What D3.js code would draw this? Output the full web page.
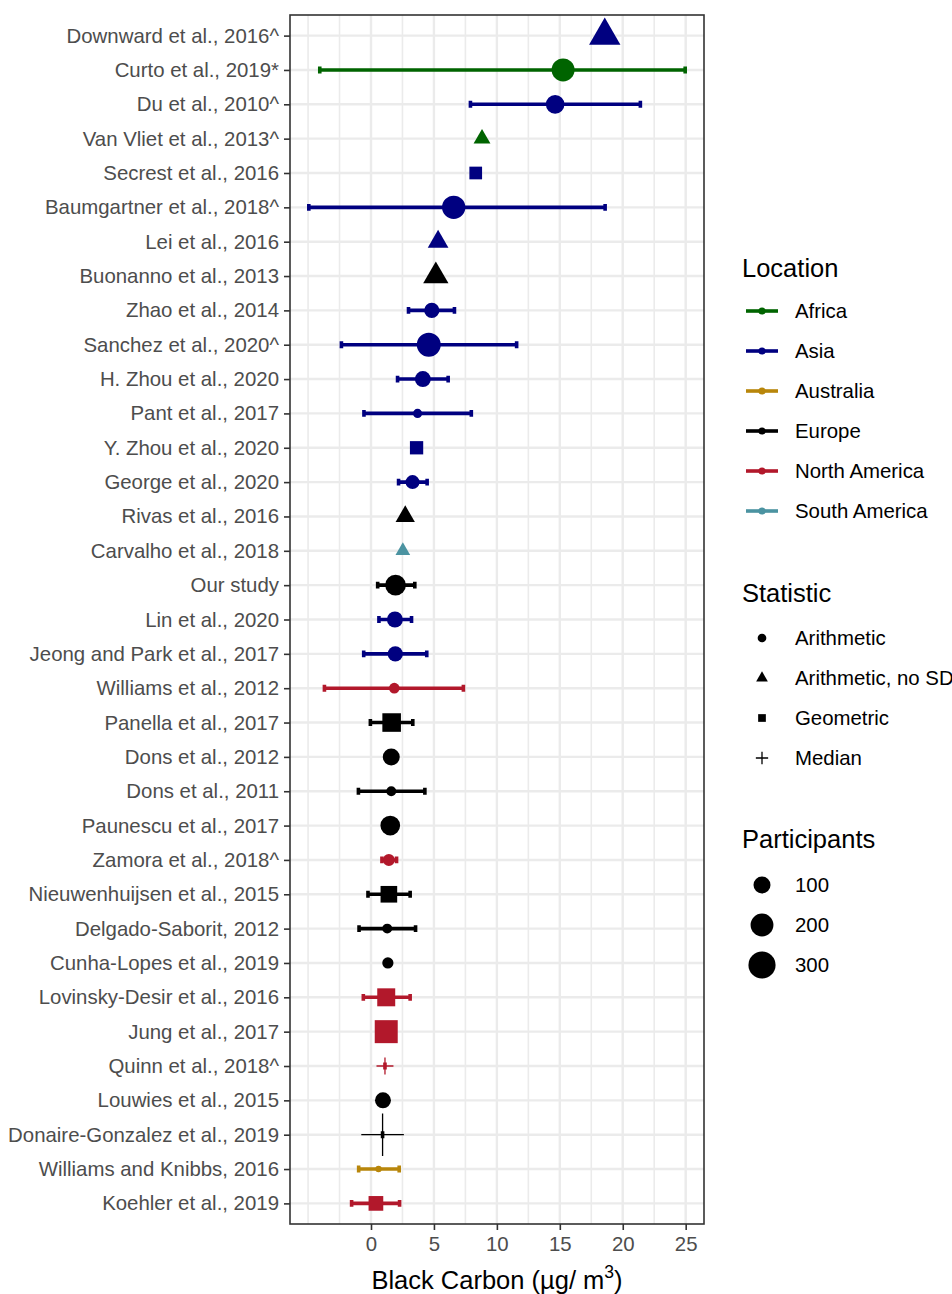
<!DOCTYPE html>
<html>
<head>
<meta charset="utf-8">
<script src="https://cdn.jsdelivr.net/npm/d3@7"></script>
<style>
  body { margin: 0; background: #fff; }
  text { font-family: "Liberation Sans", Arial, sans-serif; }
</style>
</head>
<body>
<svg id="chart" width="952" height="1294"></svg>
<script>
// studies, top to bottom
const studies = [
  "Downward et al., 2016^", "Curto et al., 2019*", "Du et al., 2010^", "Van Vliet et al., 2013^",
  "Secrest et al., 2016", "Baumgartner et al., 2018^", "Lei et al., 2016", "Buonanno et al., 2013",
  "Zhao et al., 2014", "Sanchez et al., 2020^", "H. Zhou et al., 2020", "Pant et al., 2017",
  "Y. Zhou et al., 2020", "George et al., 2020", "Rivas et al., 2016", "Carvalho et al., 2018",
  "Our study", "Lin et al., 2020", "Jeong and Park et al., 2017", "Williams et al., 2012",
  "Panella et al., 2017", "Dons et al., 2012", "Dons et al., 2011", "Paunescu et al., 2017",
  "Zamora et al., 2018^", "Nieuwenhuijsen et al., 2015", "Delgado-Saborit, 2012", "Cunha-Lopes et al., 2019",
  "Lovinsky-Desir et al., 2016", "Jung et al., 2017", "Quinn et al., 2018^", "Louwies et al., 2015",
  "Donaire-Gonzalez et al., 2019", "Williams and Knibbs, 2016", "Koehler et al., 2019"
];
const locations = [
  "Asia", "Africa", "Asia", "Africa", "Asia", "Asia", "Asia", "Europe",
  "Asia", "Asia", "Asia", "Asia", "Asia", "Asia", "Europe", "South America",
  "Europe", "Asia", "Asia", "North America", "Europe", "Europe", "Europe", "Europe",
  "North America", "Europe", "Europe", "Europe", "North America", "North America", "North America", "Europe",
  "Europe", "Australia", "North America"
];
const statistics = [
  "Arithmetic, no SD", "Arithmetic", "Arithmetic", "Arithmetic, no SD", "Geometric", "Arithmetic", "Arithmetic, no SD", "Arithmetic, no SD",
  "Arithmetic", "Arithmetic", "Arithmetic", "Arithmetic", "Geometric", "Arithmetic", "Arithmetic, no SD", "Arithmetic, no SD",
  "Arithmetic", "Arithmetic", "Arithmetic", "Arithmetic", "Geometric", "Arithmetic", "Arithmetic", "Arithmetic",
  "Arithmetic", "Geometric", "Arithmetic", "Arithmetic", "Geometric", "Geometric", "Median", "Arithmetic",
  "Median", "Arithmetic", "Geometric"
];
const bcValues = [
  18.57, 15.26, 14.63, 8.82, 8.32, 6.57, 5.33, 5.15,
  4.83, 4.59, 4.12, 3.70, 3.62, 3.30, 2.72, 2.53,
  1.95, 1.90, 1.93, 1.85, 1.64, 1.61, 1.61, 1.53,
  1.42, 1.42, 1.29, 1.34, 1.21, 1.21, 1.11, 0.95,
  0.92, 0.60, 0.39
];
const lowerValues = [
  null, -4.07, 7.90, null, null, -4.94, null, null,
  2.98, -2.35, 2.11, -0.56, null, 2.19, null, null,
  0.53, 0.63, -0.58, -3.70, -0.05, null, -1.00, null,
  0.87, -0.24, -0.95, null, -0.61, null, 1.11, null,
  0.92, -0.98, -1.54
];
const upperValues = [
  null, 24.96, 21.40, null, null, 18.60, null, null,
  6.63, 11.57, 6.13, 7.97, null, 4.46, null, null,
  3.48, 3.22, 4.43, 7.34, 3.32, null, 4.28, null,
  2.03, 3.11, 3.54, null, 3.11, null, 1.11, null,
  0.92, 2.24, 2.27
];
const participants = [
  209, 202, 124, 53, 69, 209, 80, 126,
  79, 224, 87, 34, 76, 66, 69, 42,
  158, 87, 79, 41, 163, 100, 37, 141,
  49, 126, 37, 44, 151, 270, 49, 87,
  383, 29, 95
];

const locationNames = ["Africa", "Asia", "Australia", "Europe", "North America", "South America"];
const locationColors = ["#006400", "#000080", "#B8860B", "#000000", "#B2182B", "#4B93A1"];
const statisticNames = ["Arithmetic", "Arithmetic, no SD", "Geometric", "Median"];
const participantBreaks = [100, 200, 300];
const xTicks = [0, 5, 10, 15, 20, 25];

const rows = studies.map((s, i) => ({
  study: s, location: locations[i], statistic: statistics[i],
  value: bcValues[i], lo: lowerValues[i], hi: upperValues[i], n: participants[i]
}));

const svg = d3.select("#chart");
svg.append("rect").attr("width", 952).attr("height", 1294).attr("fill", "#fff");

const panel = { left: 290, right: 704, top: 15, bottom: 1224 };
const textSize = "20.4px", titleSize = "25.5px";

// x domain from data, with 5% expansion like ggplot
let allX = bcValues.concat(lowerValues.filter(v => v !== null), upperValues.filter(v => v !== null));
let [xMin, xMax] = d3.extent(allX);
let pad = (xMax - xMin) * 0.05;
const x = d3.scaleLinear().domain([xMin - pad, xMax + pad]).range([panel.left, panel.right]);
const y = d3.scalePoint().domain(studies).range([panel.top, panel.bottom]).padding(0.6);

const color = d3.scaleOrdinal().domain(locationNames).range(locationColors);

// ggplot-like area scale: radius from sqrt of rescaled participants
const nScale = d3.scaleLinear().domain(d3.extent(participants)).range([0, 1]).clamp(true);
const radiusScale = d3.scaleLinear().domain([0, 1]).range([3.17, 15.05]);
const radius = (n) => radiusScale(Math.sqrt(nScale(n)));

// grid
let minorTicks = d3.range(-5, 26, 2.5).filter(v => x(v) >= panel.left && x(v) <= panel.right);
let grid = svg.append("g");
grid.selectAll(".minor").data(minorTicks).enter().append("line")
    .attr("x1", d => x(d)).attr("x2", d => x(d))
    .attr("y1", panel.top).attr("y2", panel.bottom)
    .attr("stroke", "#ebebeb").attr("stroke-width", 1.6);
grid.selectAll(".major").data(xTicks).enter().append("line")
    .attr("x1", d => x(d)).attr("x2", d => x(d))
    .attr("y1", panel.top).attr("y2", panel.bottom)
    .attr("stroke", "#ebebeb").attr("stroke-width", 2.4);
grid.selectAll(".hmajor").data(studies).enter().append("line")
    .attr("x1", panel.left).attr("x2", panel.right)
    .attr("y1", d => y(d)).attr("y2", d => y(d))
    .attr("stroke", "#ebebeb").attr("stroke-width", 2.4);

// error bars
let capHalf = y.step() * 0.1;
svg.append("g").selectAll(".bar")
    .data(rows.filter(r => r.lo !== null))
    .enter().append("path")
    .attr("fill", "none")
    .attr("stroke", d => color(d.location))
    .attr("stroke-width", 3.6)
    .attr("d", d => {
      let yy = y(d.study), x0 = x(d.lo), x1 = x(d.hi);
      return `M${x1},${yy - capHalf}V${yy + capHalf}M${x1},${yy}H${x0}M${x0},${yy - capHalf}V${yy + capHalf}`;
    });

// point shapes, following R's pch geometry
let shapePath = (stat, cx, cy, r) => {
  if (stat === "Arithmetic, no SD") {
    let top = 1.5551 * r, bot = 0.7776 * r, hw = 1.3468 * r;
    return `M${cx},${cy - top}L${cx + hw},${cy + bot}L${cx - hw},${cy + bot}Z`;
  }
  if (stat === "Geometric") {
    let h = 0.8862 * r;
    return `M${cx - h},${cy - h}H${cx + h}V${cy + h}H${cx - h}Z`;
  }
  if (stat === "Median") {
    let a = 1.4142 * r;
    return `M${cx - a},${cy}H${cx + a}M${cx},${cy - a}V${cy + a}`;
  }
  return `M${cx - r},${cy}A${r},${r} 0 1,0 ${cx + r},${cy}A${r},${r} 0 1,0 ${cx - r},${cy}Z`;
};

let drawSymbol = (g, stat, cx, cy, r, fill) => {
  let isPlus = stat === "Median";
  g.append("path")
   .attr("d", shapePath(stat, cx, cy, r))
   .attr("fill", isPlus ? "none" : fill)
   .attr("stroke", fill)
   .attr("stroke-width", isPlus ? 1.3 : 0);
};

let points = svg.append("g");
rows.forEach(r => drawSymbol(points, r.statistic, x(r.value), y(r.study), radius(r.n), color(r.location)));

// panel border
svg.append("rect")
   .attr("x", panel.left).attr("y", panel.top)
   .attr("width", panel.right - panel.left).attr("height", panel.bottom - panel.top)
   .attr("fill", "none").attr("stroke", "#333333").attr("stroke-width", 1.6);

// axes
let xAxis = d3.axisBottom(x).tickValues(xTicks).tickSize(6).tickPadding(5).tickFormat(d3.format("d"));
let gx = svg.append("g").attr("transform", `translate(0,${panel.bottom})`).call(xAxis);
gx.select(".domain").remove();
gx.selectAll(".tick line").attr("stroke", "#333333").attr("stroke-width", 1.6);
gx.selectAll(".tick text").attr("fill", "#4d4d4d").attr("font-size", textSize)
  .attr("font-family", "Liberation Sans, Arial, sans-serif").attr("dy", "0.76em");

let yAxis = d3.axisLeft(y).tickSize(6).tickPadding(5);
let gy = svg.append("g").attr("transform", `translate(${panel.left},0)`).call(yAxis);
gy.select(".domain").remove();
gy.selectAll(".tick line").attr("stroke", "#333333").attr("stroke-width", 1.6);
gy.selectAll(".tick text").attr("fill", "#4d4d4d").attr("font-size", textSize)
  .attr("font-family", "Liberation Sans, Arial, sans-serif");

// axis title
let title = svg.append("text")
   .attr("x", (panel.left + panel.right) / 2).attr("y", 1289)
   .attr("text-anchor", "middle").attr("font-size", titleSize).attr("fill", "#000");
title.append("tspan").text("Black Carbon (µg/ m");
title.append("tspan").attr("font-size", "17.5px").attr("dy", -11).text("3");
title.append("tspan").attr("dy", 11).text(")");

// legends
let legend = svg.append("g");
let legendX = 742, keyX = 762, labelX = 795;

legend.append("text").attr("x", legendX).attr("y", 277).attr("font-size", titleSize).text("Location");
let locRows = legend.selectAll(".loc").data(locationNames).enter().append("g")
    .attr("transform", (d, i) => `translate(0,${311 + i * 40})`);
locRows.append("line").attr("x1", keyX - 16).attr("x2", keyX + 16)
    .attr("stroke", d => color(d)).attr("stroke-width", 3.6);
locRows.append("circle").attr("cx", keyX).attr("r", 3.6).attr("fill", d => color(d));
locRows.append("text").attr("x", labelX).attr("dy", "0.35em").attr("font-size", textSize).text(d => d);

legend.append("text").attr("x", legendX).attr("y", 602).attr("font-size", titleSize).text("Statistic");
statisticNames.forEach((s, i) => {
  let cy = 638 + i * 40;
  drawSymbol(legend, s, keyX, cy, 4.35, "#000");
  legend.append("text").attr("x", labelX).attr("y", cy).attr("dy", "0.35em")
        .attr("font-size", textSize).text(s);
});

legend.append("text").attr("x", legendX).attr("y", 848).attr("font-size", titleSize).text("Participants");
participantBreaks.forEach((n, i) => {
  let cy = 885 + i * 40;
  legend.append("circle").attr("cx", keyX).attr("cy", cy).attr("r", radius(n)).attr("fill", "#000");
  legend.append("text").attr("x", labelX).attr("y", cy).attr("dy", "0.35em")
        .attr("font-size", textSize).text(n);
});
</script>
</body>
</html>
